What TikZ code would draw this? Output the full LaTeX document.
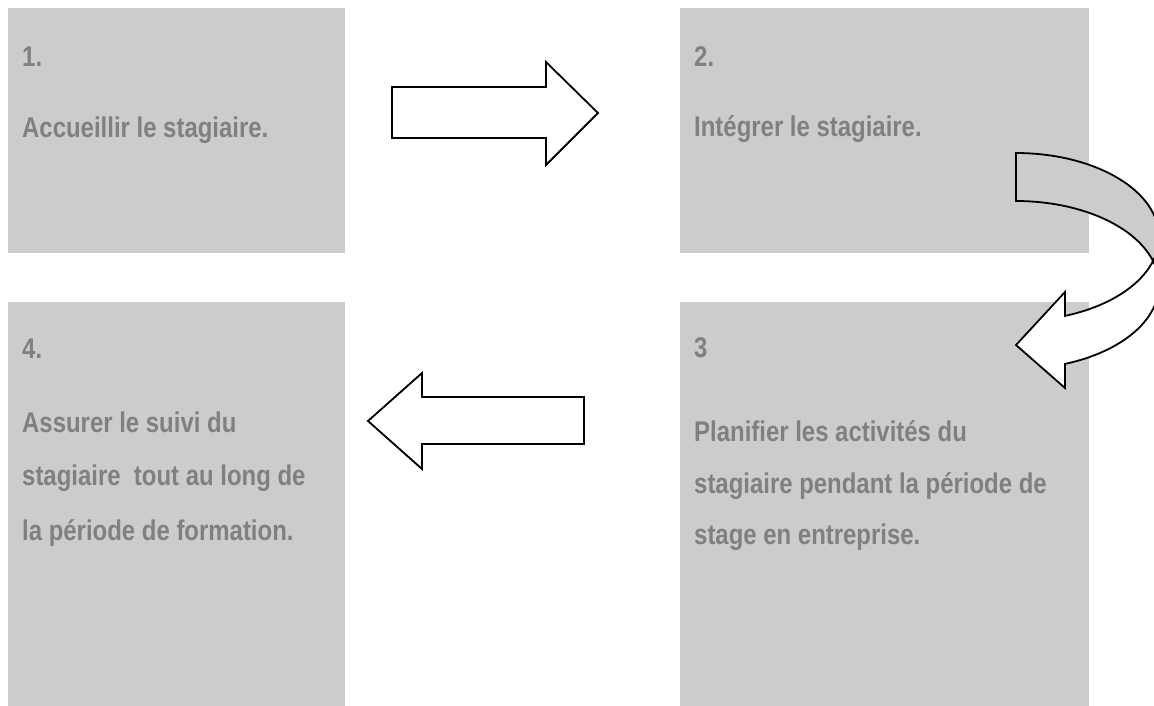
\documentclass[tikz,border=0pt]{standalone}
\usepackage{fontspec}
\setmainfont[FakeStretch=0.84]{Liberation Sans}
\usetikzlibrary{positioning}
\definecolor{boxgray}{RGB}{204,204,204}
\definecolor{textgray}{RGB}{128,128,128}

\begin{document}
\begin{tikzpicture}[x=1pt, y=-1pt,
        panel/.style={fill=boxgray, anchor=north west, inner sep=0pt},
        boxtext/.style={anchor=base west, inner sep=0pt, text=textgray, font=\fontsize{28.5}{34}\selectfont\bfseries},
        blockarrow/.style={draw=black, line width=1.8pt, fill=white, line join=miter}
    ]
        \useasboundingbox (0,0) rectangle (1154,706);
        \clip (0,0) rectangle (1154,706);

        % Boxes
        \node[panel, minimum width=337pt, minimum height=245pt] (box1) at (8,8) {};
        \node[panel, minimum width=409pt, minimum height=245pt] (box2) at (680,8) {};
        \node[panel, minimum width=409pt, minimum height=404pt] (box3) at (680,302) {};
        \node[panel, minimum width=337pt, minimum height=404pt] (box4) at (8,302) {};

        % Texts
        \node[boxtext] (num1) at (22,67) {1.};
        \node[boxtext] (txt1) at (22,138) {Accueillir le stagiaire.};
        \node[boxtext] (num2) at (694,67) {2.};
        \node[boxtext] (txt2) at (694,137) {Intégrer le stagiaire.};
        \node[boxtext] (num3) at (694,357) {3};
        \node[boxtext] (txt3a) at (694,441) {Planifier les activités du};
        \node[boxtext] (txt3b) at (694,493) {stagiaire pendant la période de};
        \node[boxtext] (txt3c) at (694,544) {stage en entreprise.};
        \node[boxtext] (num4) at (22,358) {4.};
        \node[boxtext] (txt4a) at (22,432) {Assurer le suivi du};
        \node[boxtext] (txt4b) at (22,485) {stagiaire\ \ tout au long de};
        \node[boxtext] (txt4c) at (22,540) {la période de formation.};

        % Straight arrows
        \draw[blockarrow] (392,87) -- (546,87) -- (546,62) -- (598,113) -- (546,165) -- (546,138) -- (392,138) -- cycle;
        \draw[blockarrow] (584,397) -- (422,397) -- (422,373) -- (368,421) -- (422,469) -- (422,444) -- (584,444) -- cycle;

        % Curved arrow (back band, front band, outline)
        \fill[boxgray] plot[domain=90:-16.6, samples=40] ({1016+143*cos(\x)}, {237-84*sin(\x)})
            -- plot[domain=16.6:90, samples=40] ({1016+143*cos(\x)}, {285-84*sin(\x)}) -- cycle;
        \fill[white] plot[domain=16.6:-70, samples=40] ({1016+143*cos(\x)}, {285-84*sin(\x)})
            -- (1065,388) -- (1016,345) -- (1065,292)
            -- plot[domain=-70:-16.6, samples=40] ({1016+143*cos(\x)}, {237-84*sin(\x)}) -- cycle;
        \draw[blockarrow, fill=none] (1016,201)
            -- plot[domain=90:-70, samples=60] ({1016+143*cos(\x)}, {237-84*sin(\x)})
            -- (1065,292) -- (1016,345) -- (1065,388)
            -- plot[domain=-70:90, samples=60] ({1016+143*cos(\x)}, {285-84*sin(\x)}) -- cycle;
    \end{tikzpicture}
\end{document}
